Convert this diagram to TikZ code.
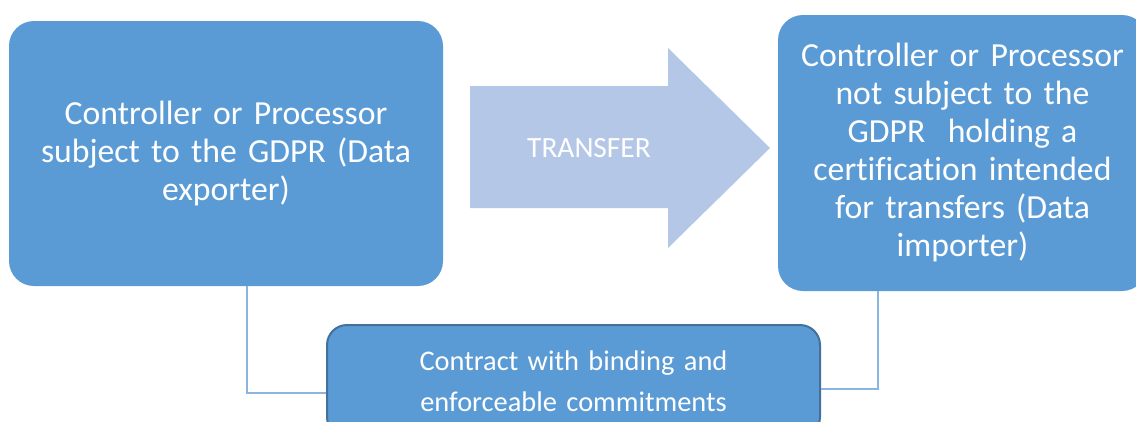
\documentclass[tikz,border=0pt]{standalone}
\usepackage{fontspec}
\setmainfont{Carlito}[Ligatures=NoCommon]
\definecolor{boxblue}{HTML}{5B9BD5}
\definecolor{edgeblue}{HTML}{41719C}
\definecolor{arrowblue}{HTML}{B4C7E7}
\definecolor{lineblue}{HTML}{8AB4E2}
\begin{document}
\begin{tikzpicture}[x=1pt,y=-1pt,
  bigbox/.style={rectangle, rounded corners=25pt, fill=boxblue, draw=none, text=white,
    align=center, font=\fontsize{33.7}{38}\selectfont, inner sep=0pt},
  smallbox/.style={rectangle, rounded corners=20pt, fill=boxblue, draw=edgeblue, line width=2pt,
    text=white, align=center, font=\fontsize{28.4}{41}\selectfont, inner sep=0pt},
  conn/.style={draw=lineblue, line width=1.5pt}]
\useasboundingbox (0,0) rectangle (1136,421);
\clip (0,0) rectangle (1136,421);
% arrow shape
\fill[arrowblue] (470,86) -- (668,86) -- (668,48) -- (770,148) -- (668,248) -- (668,208) -- (470,208) -- cycle;
\node[text=white, font=\fontsize{29.4}{34}\selectfont, inner sep=0pt] (transfer) at (589,148) {TRANSFER};
\node[bigbox, minimum width=434pt, minimum height=265pt, text width=420pt] (left) at (226,153.5)
  {Controller or Processor\\subject to the GDPR (Data\\exporter)};
\node[bigbox, minimum width=369pt, minimum height=276pt, text width=360pt] (right) at (962.5,153)
  {Controller or Processor\\not subject to the\\GDPR\ \ holding a\\certification intended\\for transfers (Data\\importer)};
\node[smallbox, minimum width=493pt, minimum height=112pt, text width=470pt] (bottom) at (573.5,381)
  {Contract with binding and\\enforceable commitments};
\coordinate (lc) at (247,393);
\coordinate (rc) at (878,389);
\draw[conn] (left.south -| lc) |- (bottom.west |- lc);
\draw[conn] (right.south -| rc) |- (bottom.east |- rc);
\end{tikzpicture}
\end{document}
